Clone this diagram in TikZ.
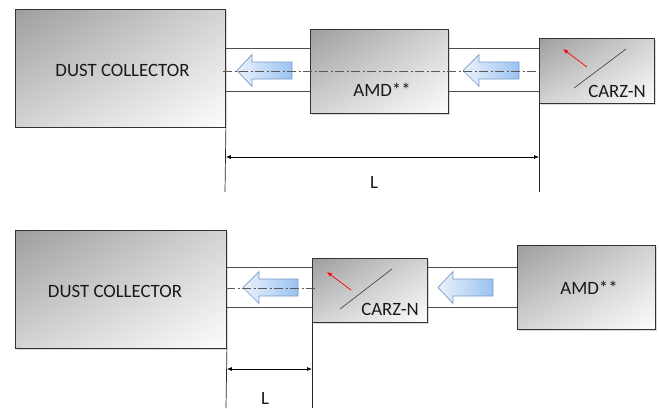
\documentclass[tikz,border=0pt]{standalone}
\usepackage{fontspec}
\setmainfont{Carlito}
\usetikzlibrary{arrows.meta,shadows,shadings}
\newcommand\flowarrow[4]{\draw[flow] (#1,#4) -- (#2,#4-16) -- (#2,#4-8.5) -- (#3,#4-8.5) -- (#3,#4+8.5) -- (#2,#4+8.5) -- (#2,#4+16) -- cycle;}
\begin{document}
\begin{tikzpicture}[x=1pt,y=-1pt,
  box/.style={draw=black!80, line width=0.9pt, inner sep=0pt, anchor=north west,
    upper left=black!38, upper right=black!17, lower left=black!17, lower right=black!1,
    drop shadow={shadow xshift=1.2pt, shadow yshift=-1.5pt, opacity=0.3}},
  lbl/.style={font=\fontsize{18.8}{21}\selectfont, text=black!90, inner sep=0pt},
  pipe/.style={draw=black!70, line width=0.8pt},
  axisline/.style={draw=black!65, line width=0.7pt, dash pattern=on 9pt off 2.5pt on 2pt off 2.5pt},
  flow/.style={draw={rgb,255:red,120;green,155;blue,200}, line width=0.7pt, left color={rgb,255:red,235;green,242;blue,252}, right color={rgb,255:red,155;green,194;blue,240}},
  dim/.style={draw=black, line width=0.7pt, {Latex[length=5pt,width=4pt]}-{Latex[length=5pt,width=4pt]}},
  ext/.style={draw=black!85, line width=0.7pt},
  valve/.style={draw=black!70, line width=0.7pt},
  refl/.style={draw=black!15, line width=0.7pt},
  redarr/.style={draw=red, line width=0.7pt, -{Latex[length=5pt,width=4pt]}}
]
\useasboundingbox (0,0) rectangle (659,408);
% ---------- top diagram ----------
\node[box, minimum width=210pt, minimum height=117.5pt] (dcA) at (15,9) {};
\node[box, minimum width=138pt, minimum height=84pt] (amdA) at (310,29) {};
\node[box, minimum width=115pt, minimum height=65pt] (carzA) at (539,38) {};
\node[lbl] (tdcA) at (122.5,70) {DUST COLLECTOR};
\node[lbl] (tamdA) at (382,90) {AMD**};
\node[lbl] (tcarzA) at (617,91) {CARZ-N};
\coordinate (yA1) at (0,48.7);
\coordinate (yA2) at (0,91.3);
\coordinate (yAc) at (0,71);
\draw[pipe] (dcA.east |- yA1) -- (amdA.west |- yA1);
\draw[pipe] (dcA.east |- yA2) -- (amdA.west |- yA2);
\draw[pipe] (amdA.east |- yA1) -- (carzA.west |- yA1);
\draw[pipe] (amdA.east |- yA2) -- (carzA.west |- yA2);
\flowarrow{237}{252}{292}{70.5}
\flowarrow{463}{479}{519}{70.5}
\coordinate (axA1) at (223,71);
\draw[axisline] (axA1) -- (carzA.west |- yAc);
\coordinate (vA1) at (574,88);
\coordinate (vA2) at (626,49);
\draw[valve] (vA1) -- (vA2);
\coordinate (rA1) at (574.5,93);
\coordinate (rA2) at (585,100.5);
\draw[refl] (rA1) -- (rA2);
\coordinate (raA1) at (587,67);
\coordinate (raA2) at (563,49);
\draw[redarr] (raA1) -- (raA2);
\coordinate (eA1) at (225,192);
\coordinate (eA2) at (539,192);
\draw[ext] (dcA.south east) -- (eA1);
\draw[ext] (carzA.south west) -- (eA2);
\coordinate (yAd) at (0,157);
\draw[dim] (dcA.east |- yAd) -- (carzA.west |- yAd);
\node[lbl] (LA) at (374,182) {L};
% ---------- bottom diagram ----------
\node[box, minimum width=211pt, minimum height=118pt] (dcB) at (15,230) {};
\node[box, minimum width=115pt, minimum height=64pt] (carzB) at (312,258) {};
\node[box, minimum width=138pt, minimum height=84pt] (amdB) at (517,245) {};
\node[lbl] (tdcB) at (115,291) {DUST COLLECTOR};
\node[lbl] (tamdB) at (589,288) {AMD**};
\node[lbl] (tcarzB) at (390,309) {CARZ-N};
\coordinate (yB1) at (0,267);
\coordinate (yB2) at (0,307);
\draw[pipe] (dcB.east |- yB1) -- (carzB.west |- yB1);
\draw[pipe] (dcB.east |- yB2) -- (carzB.west |- yB2);
\draw[pipe] (carzB.east |- yB1) -- (amdB.west |- yB1);
\draw[pipe] (carzB.east |- yB2) -- (amdB.west |- yB2);
\flowarrow{243}{259}{298}{287.5}
\flowarrow{438}{453}{493}{287.5}
\coordinate (axB1) at (226,288);
\coordinate (axB2) at (317,288);
\draw[axisline] (axB1) -- (axB2);
\coordinate (vB1) at (340,309);
\coordinate (vB2) at (392,269);
\draw[valve] (vB1) -- (vB2);
\coordinate (rB1) at (340.5,314);
\coordinate (rB2) at (351,321);
\draw[refl] (rB1) -- (rB2);
\coordinate (raB1) at (351,290);
\coordinate (raB2) at (327,272);
\draw[redarr] (raB1) -- (raB2);
\coordinate (eB1) at (226,408);
\coordinate (eB2) at (312,408);
\draw[ext] (dcB.south east) -- (eB1);
\draw[ext] (carzB.south west) -- (eB2);
\coordinate (yBd) at (0,369);
\draw[dim] (dcB.east |- yBd) -- (carzB.west |- yBd);
\node[lbl] (LB) at (265,398) {L};
\end{tikzpicture}
\end{document}
